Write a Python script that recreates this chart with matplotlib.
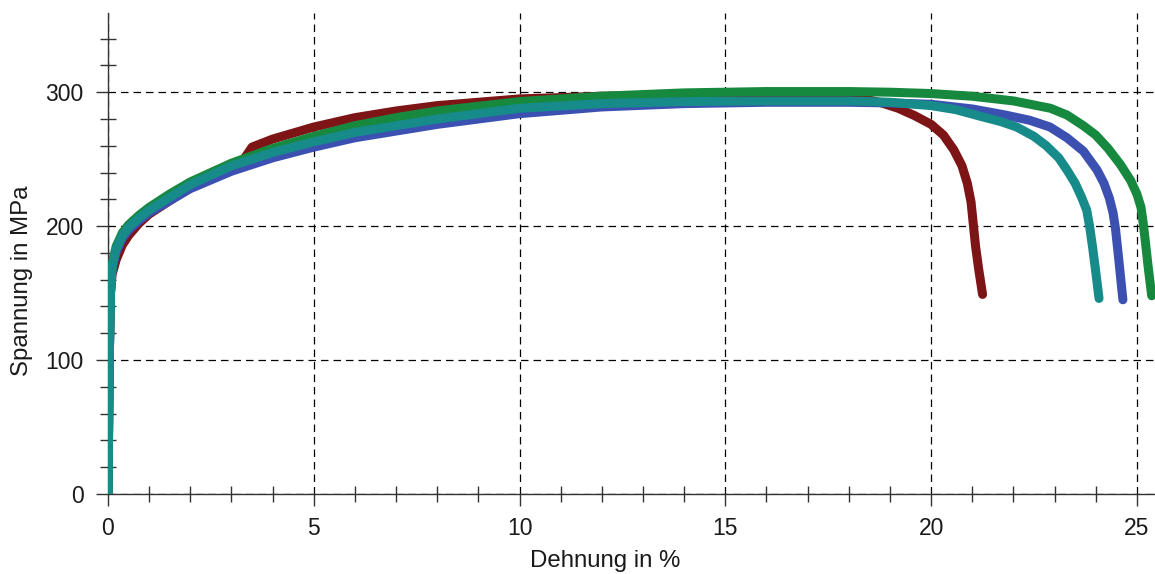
import matplotlib.pyplot as plt
from matplotlib.ticker import MultipleLocator

plt.rcParams['font.family'] = ['Liberation Sans', 'DejaVu Sans']

# stress-strain curves (Dehnung in %, Spannung in MPa)
red_x = [0, 0.03, 0.06, 0.1, 0.2, 0.35, 0.5, 0.75, 1.0, 1.5, 2.0, 2.5, 3.0, 3.3, 3.5, 4.0,
         5.0, 6.0, 7.0, 8.0, 10.0, 12.0, 14.0, 16.0, 17.5, 18.3, 18.8, 19.2, 19.6, 20.0,
         20.3, 20.55, 20.75, 20.88, 20.97, 21.02, 21.08, 21.16, 21.25]
red_y = [0, 100, 150, 164, 175, 186, 193, 202, 209, 219, 229, 238, 246, 250, 259, 265,
         274, 281, 286, 290, 295, 297, 298, 298, 297.5, 295.5, 292, 288, 282.5, 276,
         268, 257, 245, 232, 218, 203, 185, 167, 149]

blue_x = [0, 0.03, 0.06, 0.1, 0.2, 0.35, 0.5, 0.75, 1.0, 2.0, 3.0, 4.0, 5.0, 6.0, 8.0,
          10.0, 12.0, 14.0, 16.0, 18.0, 19.0, 20.0, 21.0, 21.8, 22.4, 22.89, 23.3, 23.7,
          24.03, 24.2, 24.33, 24.42, 24.48, 24.55, 24.66]
blue_y = [0, 100, 150, 168, 181, 191, 197, 204, 210, 228, 241, 251, 259, 266, 276,
          284, 289, 291.5, 292.5, 292.5, 292, 291, 287.5, 283, 279, 274, 266, 256,
          242, 232, 221, 210, 198, 178, 145]

green_x = [0, 0.03, 0.06, 0.1, 0.2, 0.35, 0.5, 0.75, 1.0, 1.5, 2.0, 3.0, 4.0, 5.0, 6.0,
           7.0, 8.0, 10.0, 12.0, 14.0, 16.0, 18.0, 19.0, 20.0, 21.0, 22.0, 22.9, 23.3,
           23.7, 24.0, 24.3, 24.6, 24.85, 25.0, 25.1, 25.15, 25.2, 25.28, 25.36]
green_y = [0, 100, 150, 172, 185, 195, 201, 208, 214, 224, 233, 247, 258, 267, 275,
           281, 286, 293, 297, 299.5, 300.5, 300.5, 300, 299, 297, 293.5, 288, 283,
           275, 268, 258, 246, 234, 224, 214, 203, 190, 168, 148]

teal_x = [0, 0.03, 0.06, 0.1, 0.2, 0.35, 0.5, 0.75, 1.0, 2.0, 3.0, 4.0, 5.0, 6.0, 8.0,
          10.0, 12.0, 14.0, 16.0, 18.0, 19.0, 20.0, 20.6, 21.2, 21.7, 22.08, 22.5, 22.8,
          23.1, 23.3, 23.5, 23.65, 23.78, 23.85, 23.92, 24.0, 24.08]
teal_y = [0, 100, 150, 170, 183, 193, 199, 206, 212, 231, 245, 255, 263, 270, 280,
          288, 291.5, 293, 293.5, 293.5, 292.5, 290, 287, 282, 278, 274, 267, 260,
          251, 242, 232, 222, 212, 200, 185, 166, 146]

fig = plt.figure(figsize=(11.55, 5.74), dpi=100)
ax = fig.add_axes([0.0935, 0.1394, 0.9065, 0.8376])

lw = 6.5
ax.plot(red_x, red_y, color='#7d1416', lw=lw, solid_capstyle='round', solid_joinstyle='round', zorder=3)
ax.plot(blue_x, blue_y, color='#3b50b0', lw=lw, solid_capstyle='round', solid_joinstyle='round', zorder=3)
ax.plot(green_x, green_y, color='#17893e', lw=lw, solid_capstyle='round', solid_joinstyle='round', zorder=3)
ax.plot(teal_x, teal_y, color='#178a8a', lw=lw, solid_capstyle='round', solid_joinstyle='round', zorder=3)

ax.set_xlim(0, 25.44)
ax.set_ylim(0, 359)

ax.xaxis.set_major_locator(MultipleLocator(5))
ax.xaxis.set_minor_locator(MultipleLocator(1))
ax.yaxis.set_major_locator(MultipleLocator(100))
ax.yaxis.set_minor_locator(MultipleLocator(20))

ax.grid(True, which='major', color='black', linestyle=(0, (6, 4)), linewidth=0.9, zorder=1)

for s in ['top', 'right']:
    ax.spines[s].set_visible(False)
for s in ['left', 'bottom']:
    ax.spines[s].set_color('#333333')
    ax.spines[s].set_linewidth(1.0)
    ax.spines[s].set_zorder(2)

ax.tick_params(which='major', direction='out', length=8.5, width=1.0, color='#333333',
               labelsize=16.5, labelcolor='#1a1a1a')
ax.tick_params(axis='x', which='major', pad=8)
ax.tick_params(axis='y', which='major', pad=9)
ax.tick_params(which='minor', direction='inout', length=11.5, width=1.0, color='#333333')

ax.set_xlabel('Dehnung in %', fontsize=17.3, color='#1a1a1a')
ax.set_ylabel('Spannung in MPa', fontsize=17.3, color='#1a1a1a')
ax.xaxis.set_label_coords(0.475, -0.116)
ax.yaxis.set_label_coords(-0.072, 0.443)

fig.savefig('out.png', dpi=100)
